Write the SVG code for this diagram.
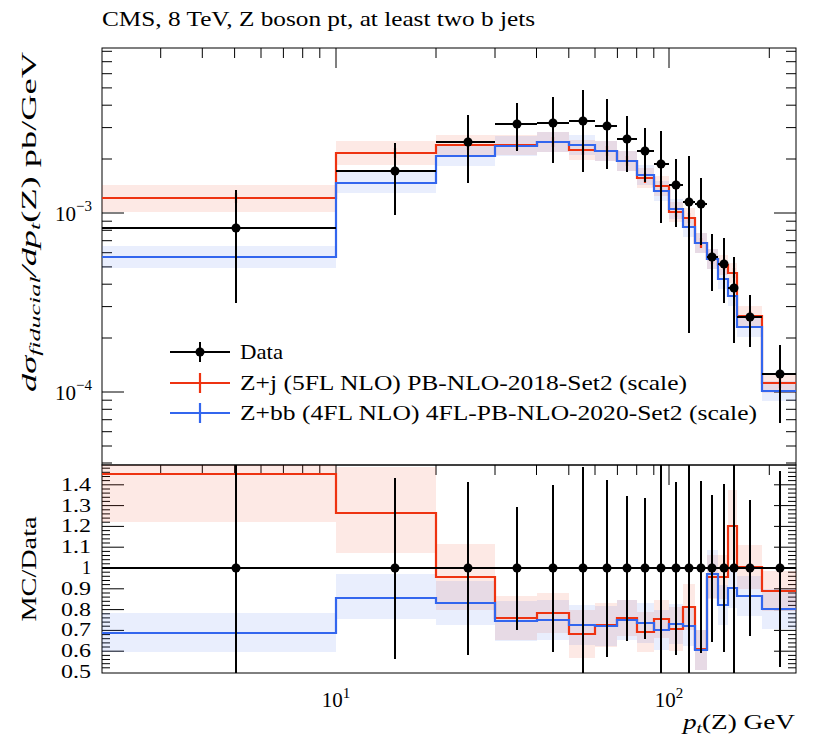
<svg xmlns="http://www.w3.org/2000/svg" width="822" height="742" viewBox="0 0 822 742">
<style>
text{font-family:"Liberation Serif","DejaVu Serif",serif;fill:#000}
.t{font-size:21px}
.tk{stroke:#000;stroke-width:1;fill:none}
.fr{fill:none;stroke:#000;stroke-width:1}
.red{fill:none;stroke:#ee3311;stroke-width:2.2}
.blue{fill:none;stroke:#3366ee;stroke-width:2.2}
.rb{fill:#ee3311;fill-opacity:0.11}
.bb{fill:#3366ee;fill-opacity:0.11}
.e{stroke:#000;stroke-width:2;fill:none}
.d{fill:#000}
</style>
<defs>
<clipPath id="cm"><rect x="102" y="48" width="694" height="417"/></clipPath>
<clipPath id="cr"><rect x="102" y="465" width="694" height="208"/></clipPath>
<path id="ytm" class="tk" d="M102,463h10M102,446h10M102,431.7h10M102,419.7h10M102,409.3h10M102,400.2h10M102,392h22M102,338h10M102,306.6h10M102,284.2h10M102,266.9h10M102,252.7h10M102,240.7h10M102,230.3h10M102,221.2h10M102,213h22M102,159h10M102,127.6h10M102,105.2h10M102,87.9h10M102,73.7h10M102,61.7h10M102,51.3h10"/>
<path id="ytr" class="tk" d="M102,667.8h8M102,663.7h8M102,659.5h8M102,655.4h8M102,651.2h22M102,647h8M102,642.9h8M102,638.7h8M102,634.6h8M102,630.4h22M102,626.2h8M102,622.1h8M102,617.9h8M102,613.8h8M102,609.6h22M102,605.4h8M102,601.3h8M102,597.1h8M102,593h8M102,588.8h22M102,584.6h8M102,580.5h8M102,576.3h8M102,572.2h8M102,568h22M102,563.8h8M102,559.7h8M102,555.5h8M102,551.4h8M102,547.2h22M102,543h8M102,538.9h8M102,534.7h8M102,530.6h8M102,526.4h22M102,522.2h8M102,518.1h8M102,513.9h8M102,509.8h8M102,505.6h22M102,501.4h8M102,497.3h8M102,493.1h8M102,489h8M102,484.8h22M102,480.6h8M102,476.5h8M102,472.3h8M102,468.2h8"/>
<path id="xtd" class="tk" d="M160.7,0v10M202.3,0v10M234.6,0v10M261,0v10M283.4,0v10M302.7,0v10M319.8,0v10M336,0v20M436,0v10M495,0v10M536.5,0v10M568.8,0v10M595,0v10M617.4,0v10M636.7,0v10M653.8,0v10M669,0v20M769.3,0v10"/>
</defs>
<text class="t" x="102" y="26" textLength="433" lengthAdjust="spacingAndGlyphs">CMS, 8 TeV, Z boson pt, at least two b jets</text>
<g id="axes">
<rect class="fr" x="102" y="48" width="694" height="417"/>
<rect class="fr" x="102" y="465" width="694" height="208"/>
<use href="#ytm"/><use href="#ytm" transform="translate(898,0) scale(-1,1)"/>
<use href="#ytr"/><use href="#ytr" transform="translate(898,0) scale(-1,1)"/>
<use href="#xtd" transform="translate(0,48)"/>
<use href="#xtd" transform="translate(0,930) scale(1,-1)"/>
<use href="#xtd" transform="translate(0,465)"/>
<use href="#xtd" transform="translate(0,1138) scale(1,-1)"/>
</g>
<g id="labels">
<text class="t" x="92" y="221" text-anchor="end">10<tspan font-size="15" dy="-10">−3</tspan></text>
<text class="t" x="92" y="400" text-anchor="end">10<tspan font-size="15" dy="-10">−4</tspan></text>
<g font-size="18" text-anchor="end">
<text x="91" y="491" textLength="30" lengthAdjust="spacingAndGlyphs">1.4</text><text x="91" y="512" textLength="30" lengthAdjust="spacingAndGlyphs">1.3</text><text x="91" y="532" textLength="30" lengthAdjust="spacingAndGlyphs">1.2</text><text x="91" y="553" textLength="30" lengthAdjust="spacingAndGlyphs">1.1</text><text x="91" y="574">1</text><text x="91" y="595" textLength="30" lengthAdjust="spacingAndGlyphs">0.9</text><text x="91" y="616" textLength="30" lengthAdjust="spacingAndGlyphs">0.8</text><text x="91" y="636" textLength="30" lengthAdjust="spacingAndGlyphs">0.7</text><text x="91" y="657" textLength="30" lengthAdjust="spacingAndGlyphs">0.6</text><text x="91" y="678" textLength="30" lengthAdjust="spacingAndGlyphs">0.5</text>
</g>
<text class="t" x="336" y="707" text-anchor="middle">10<tspan font-size="15" dy="-9">1</tspan></text>
<text class="t" x="669" y="707" text-anchor="middle">10<tspan font-size="15" dy="-9">2</tspan></text>
<text class="t" x="795" y="729" text-anchor="end" textLength="112" lengthAdjust="spacingAndGlyphs"><tspan font-style="italic">p</tspan><tspan font-size="15" font-style="italic" dy="4">t</tspan><tspan dy="-4">(Z) GeV</tspan></text>
<text class="t" transform="translate(36,222) rotate(-90)" text-anchor="middle" textLength="340" lengthAdjust="spacingAndGlyphs"><tspan font-style="italic">dσ</tspan><tspan font-size="15" font-style="italic" dy="4">fiducial</tspan><tspan dy="-4" font-style="italic">/dp</tspan><tspan font-size="15" font-style="italic" dy="4">t</tspan><tspan dy="-4">(Z) pb/GeV</tspan></text>
<text class="t" transform="translate(36,569) rotate(-90)" text-anchor="middle" textLength="105" lengthAdjust="spacingAndGlyphs">MC/Data</text>
</g>
<g id="main" clip-path="url(#cm)">
<g class="rb">
<rect x="102" y="185" width="234" height="27"/><rect x="336" y="141" width="100" height="24"/><rect x="436" y="135" width="59" height="20"/><rect x="495" y="135" width="42" height="20"/><rect x="537" y="132" width="32" height="20"/><rect x="569" y="140" width="26" height="20"/><rect x="595" y="141" width="22" height="20"/><rect x="617" y="151" width="20" height="20"/><rect x="637" y="168" width="17" height="20"/><rect x="654" y="176" width="15" height="20"/><rect x="669" y="202" width="14" height="20"/><rect x="683" y="208" width="12" height="20"/><rect x="695" y="233" width="12" height="20"/><rect x="707" y="249" width="11" height="20"/><rect x="718" y="255" width="10" height="20"/><rect x="728" y="263" width="9" height="20"/><rect x="737" y="306" width="25" height="20"/><rect x="762" y="373" width="34" height="20"/>
</g>
<g class="bb">
<rect x="102" y="246" width="234" height="22"/><rect x="336" y="172" width="100" height="21"/><rect x="436" y="146" width="59" height="20"/><rect x="495" y="136" width="42" height="20"/><rect x="537" y="132" width="32" height="20"/><rect x="569" y="135" width="26" height="20"/><rect x="595" y="141" width="22" height="20"/><rect x="617" y="151" width="20" height="20"/><rect x="637" y="165" width="17" height="20"/><rect x="654" y="181" width="15" height="20"/><rect x="669" y="199" width="14" height="20"/><rect x="683" y="217" width="12" height="20"/><rect x="695" y="233" width="12" height="20"/><rect x="707" y="249" width="11" height="20"/><rect x="718" y="269" width="10" height="20"/><rect x="728" y="286" width="9" height="20"/><rect x="737" y="317" width="25" height="20"/><rect x="762" y="381" width="34" height="20"/>
</g>
<path class="red" d="M102,198H336V153H436V145H495V145H537V142H569V150H595V151H617V161H637V178H654V186H669V212H683V218H695V243H707V259H718V265H728V273H737V316H762V383H796"/>
<path class="blue" d="M102,257H336V183H436V156H495V146H537V142H569V145H595V151H617V161H637V175H654V191H669V209H683V227H695V243H707V259H718V279H728V296H737V327H762V391H796"/>
<path class="red" stroke-width="1.6" d="M236,193v10M395,148v10M468,140v10M517,140v10M553,137v10M583,145v10M607,146v10M627,156v10M645,173v10M661,181v10M676,207v10M689,213v10M701,238v10M712,254v10M724,260v10M734,268v10M750,311v10M780,378v10"/>
<path class="e" d="M102,228H336M236,190V303M336,171H436M395,143V215M436,142H495M468,115V183M495,124H537M517,103V151M537,123H569M553,97V163M569,121H595M583,90V172M595,126H617M607,99V169M617,139H637M627,116V172M637,151H654M645,128V182M654,164H669M661,131V223M669,185H683M676,159V227M683,202H695M689,156V333M695,204H707M701,178V245M707,257H718M712,234V291M718,264H728M724,238V303M728,288H737M734,257V343M737,317H762M750,295V347M762,374H796M780,345V423"/>
<g class="d"><circle cx="236" cy="228" r="4.5"/><circle cx="395" cy="171" r="4.5"/><circle cx="468" cy="142" r="4.5"/><circle cx="517" cy="124" r="4.5"/><circle cx="553" cy="123" r="4.5"/><circle cx="583" cy="121" r="4.5"/><circle cx="607" cy="126" r="4.5"/><circle cx="627" cy="139" r="4.5"/><circle cx="645" cy="151" r="4.5"/><circle cx="661" cy="164" r="4.5"/><circle cx="676" cy="185" r="4.5"/><circle cx="689" cy="202" r="4.5"/><circle cx="701" cy="204" r="4.5"/><circle cx="712" cy="257" r="4.5"/><circle cx="724" cy="264" r="4.5"/><circle cx="734" cy="288" r="4.5"/><circle cx="750" cy="317" r="4.5"/><circle cx="780" cy="374" r="4.5"/></g>
</g>
<g id="legend">
<path class="e" d="M170,352H230M200,342V362"/><circle cx="200" cy="352" r="4.5"/>
<text class="t" x="240" y="359" textLength="43" lengthAdjust="spacingAndGlyphs">Data</text>
<path class="red" d="M170,383H230M200,373V393"/>
<text class="t" x="240" y="390" textLength="447" lengthAdjust="spacingAndGlyphs">Z+j (5FL NLO) PB-NLO-2018-Set2 (scale)</text>
<path class="blue" d="M170,413H230M200,403V423"/>
<text class="t" x="240" y="420" textLength="517" lengthAdjust="spacingAndGlyphs">Z+bb (4FL NLO) 4FL-PB-NLO-2020-Set2 (scale)</text>
</g>
<g id="ratio" clip-path="url(#cr)">
<g class="rb">
<rect x="102" y="463" width="234" height="59"/><rect x="336" y="467" width="100" height="86"/><rect x="436" y="544" width="59" height="66"/><rect x="495" y="596" width="42" height="44"/><rect x="537" y="593" width="32" height="40"/><rect x="569" y="610" width="26" height="48"/><rect x="595" y="603" width="22" height="44"/><rect x="617" y="600" width="20" height="36"/><rect x="637" y="612" width="17" height="40"/><rect x="654" y="600" width="15" height="38"/><rect x="669" y="607" width="14" height="44"/><rect x="683" y="584" width="12" height="46"/><rect x="695" y="630" width="12" height="40"/><rect x="707" y="555" width="11" height="44"/><rect x="718" y="555" width="10" height="44"/><rect x="728" y="490" width="9" height="70"/><rect x="737" y="545" width="25" height="44"/><rect x="762" y="571" width="34" height="40"/>
</g>
<g class="bb">
<rect x="102" y="613" width="234" height="39"/><rect x="336" y="574" width="100" height="45"/><rect x="436" y="581" width="59" height="44"/><rect x="495" y="601" width="42" height="40"/><rect x="537" y="600" width="32" height="40"/><rect x="569" y="605" width="26" height="40"/><rect x="595" y="606" width="22" height="40"/><rect x="617" y="600" width="20" height="40"/><rect x="637" y="603" width="17" height="40"/><rect x="654" y="610" width="15" height="40"/><rect x="669" y="604" width="14" height="40"/><rect x="683" y="606" width="12" height="40"/><rect x="695" y="630" width="12" height="40"/><rect x="707" y="550" width="11" height="48"/><rect x="718" y="585" width="10" height="40"/><rect x="728" y="568" width="9" height="40"/><rect x="737" y="576" width="25" height="40"/><rect x="762" y="589" width="34" height="40"/>
</g>
<path class="red" d="M102,474H336V513H436V577H495V618H537V613H569V634H595V625H617V618H637V632H654V619H669V629H683V607H695V649H707V577H718V577H728V526H737V567H762V591H796"/>
<path class="blue" d="M102,633H336V598H436V603H495V621H537V620H569V625H595V626H617V620H637V623H654V630H669V624H683V626H695V650H707V574H718V605H728V588H737V596H762V609H796"/>
<path class="e" d="M102,568H796M236,465V673M395,478V659M468,482V655M517,507V630M553,485V652M583,467V673M607,480V657M627,496V641M645,498V639M661,465V673M676,482V655M689,465V673M701,481V653M712,495V642M724,484V652M734,465V673M750,500V636M780,471V667"/>
<g class="d"><circle cx="236" cy="568" r="4.5"/><circle cx="395" cy="568" r="4.5"/><circle cx="468" cy="568" r="4.5"/><circle cx="517" cy="568" r="4.5"/><circle cx="553" cy="568" r="4.5"/><circle cx="583" cy="568" r="4.5"/><circle cx="607" cy="568" r="4.5"/><circle cx="627" cy="568" r="4.5"/><circle cx="645" cy="568" r="4.5"/><circle cx="661" cy="568" r="4.5"/><circle cx="676" cy="568" r="4.5"/><circle cx="689" cy="568" r="4.5"/><circle cx="701" cy="568" r="4.5"/><circle cx="712" cy="568" r="4.5"/><circle cx="724" cy="568" r="4.5"/><circle cx="734" cy="568" r="4.5"/><circle cx="750" cy="568" r="4.5"/><circle cx="780" cy="568" r="4.5"/></g>
</g>
</svg>
